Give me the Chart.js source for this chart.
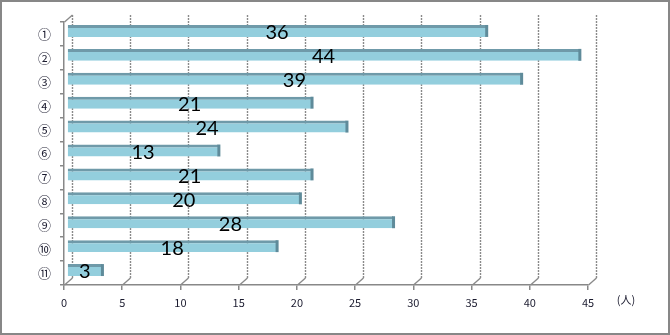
<!DOCTYPE html>
<html>
<head>
<meta charset="utf-8">
<script src="https://cdn.jsdelivr.net/npm/chart.js@4/dist/chart.umd.min.js"></script>
<style>
  html, body { margin: 0; padding: 0; background: #fff; }
  #wrap { position: relative; width: 670px; height: 335px; }
  #frame { position: absolute; left: 0; top: 0; width: 670px; height: 335px; box-sizing: border-box; border: 2px solid #878787; pointer-events: none; }
</style>
</head>
<body>
<div id="wrap">
  <canvas id="chart"></canvas>
  <div id="frame"></div>
</div>
<script>
// datos del gráfico
const categorias = ['①','②','③','④','⑤','⑥','⑦','⑧','⑨','⑩','⑪'];
const valores = [36, 44, 39, 21, 24, 13, 21, 20, 28, 18, 3];
const ejeMax = 45;
const ejePaso = 5;
const unidad = '(人)';

const tickFont = { family: '"Noto Sans CJK JP", "DejaVu Sans", sans-serif', size: 11 };
const prof = { dx: 3, dy: -3 }; // desplazamiento 3D de las barras

// paredes 3D de fondo (líneas de cuadrícula desplazadas)
const fondo3d = {
  id: 'fondo3d',
  beforeDatasetsDraw(chart) {
    const { ctx, chartArea: a, scales: { x } } = chart;
    const dx = 8, dy = 7;
    ctx.save();
    ctx.strokeStyle = '#8a8a8a';
    ctx.lineWidth = 1.4;
    for (let v = 0; v <= ejeMax; v += ejePaso) {
      const px = Math.round(x.getPixelForValue(v)) + 0.5;
      ctx.setLineDash([2, 1]);
      ctx.beginPath();
      ctx.moveTo(px + dx, a.top - dy);
      ctx.lineTo(px + dx, a.bottom - dy);
      ctx.stroke();
      ctx.setLineDash([]);
      ctx.beginPath();
      ctx.moveTo(px + dx, a.bottom - dy);
      ctx.lineTo(px, a.bottom);
      ctx.stroke();
    }
    const x0 = Math.round(x.getPixelForValue(0)) + 0.5;
    ctx.beginPath();
    ctx.moveTo(x0, a.top);
    ctx.lineTo(x0 + dx, a.top - dy);
    ctx.stroke();
    ctx.restore();
  }
};

// desplaza las barras para simular profundidad
const desplazar = {
  id: 'desplazar',
  beforeDatasetsDraw(chart) {
    chart.ctx.save();
    chart.ctx.translate(prof.dx, prof.dy);
  },
  afterDatasetsDraw(chart) {
    const { ctx } = chart;
    chart.getDatasetMeta(0).data.forEach(bar => {
      ctx.fillStyle = '#5f8b9a';
      ctx.fillRect(bar.x - 1, bar.y - bar.height / 2, 3, bar.height);
    });
    ctx.restore();
  }
};

const etiquetas = {
  id: 'etiquetas',
  afterDatasetsDraw(chart) {
    const { ctx } = chart;
    const meta = chart.getDatasetMeta(0);
    ctx.save();
    ctx.fillStyle = '#000';
    ctx.font = '20px Lato, "Open Sans", sans-serif';
    ctx.textAlign = 'center';
    ctx.textBaseline = 'middle';
    meta.data.forEach((bar, i) => {
      ctx.fillText(String(valores[i]), (bar.x + bar.base) / 2 + prof.dx, bar.y + prof.dy + 2);
    });
    const a = chart.chartArea;
    ctx.font = '11px "Noto Sans CJK JP", sans-serif';
    ctx.fillStyle = '#1a1a2e';
    ctx.fillText(unidad, a.right + 38, a.bottom + 15);
    ctx.restore();
  }
};

new Chart(document.getElementById('chart'), {
  type: 'bar',
  data: {
    labels: categorias,
    datasets: [{
      data: valores,
      backgroundColor: '#93cedd',
      borderColor: '#6f9aa9',
      borderWidth: { top: 3, right: 0, bottom: 0, left: 0 },
      borderSkipped: false,
      barPercentage: 0.5,
      categoryPercentage: 1
    }]
  },
  options: {
    indexAxis: 'y',
    responsive: true,
    maintainAspectRatio: false,
    animation: false,
    layout: { padding: { left: 0, right: 82, top: 22, bottom: 0 } },
    plugins: { legend: { display: false }, tooltip: { enabled: false } },
    scales: {
      x: {
        min: 0, max: ejeMax,
        afterFit(s) { s.height = 50; },
        border: { display: true, color: '#888', width: 1.5 },
        grid: { drawOnChartArea: false, tickLength: 5, color: '#888', lineWidth: 1.5 },
        ticks: { stepSize: ejePaso, padding: 6, color: '#1a1a2e', font: tickFont, maxRotation: 0 }
      },
      y: {
        afterFit(s) { s.width = 64; },
        border: { display: true, color: '#888', width: 1.5 },
        grid: { drawOnChartArea: false, offset: true, tickLength: 4, color: '#888', lineWidth: 1.5 },
        ticks: { padding: 9, color: '#1a1a2e', font: { family: tickFont.family, size: 13 } }
      }
    }
  },
  plugins: [fondo3d, desplazar, etiquetas]
});
</script>
</body>
</html>
